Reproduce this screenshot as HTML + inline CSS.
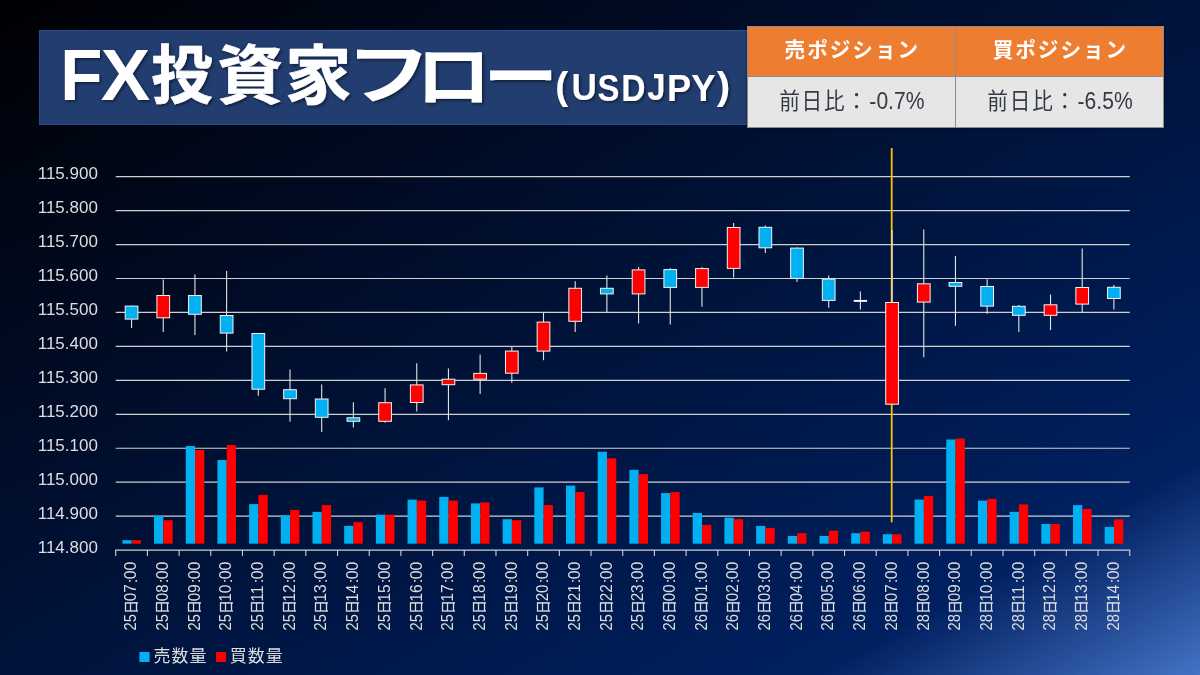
<!DOCTYPE html>
<html lang="ja"><head><meta charset="utf-8"><title>FX投資家フロー(USDJPY)</title>
<style>
html,body{margin:0;padding:0;}
body{width:1200px;height:675px;overflow:hidden;position:relative;font-family:"Liberation Sans","Noto Sans CJK JP",sans-serif;
background:#02143c;}
#bg{position:absolute;left:0;top:0;width:1200px;height:675px;
background:linear-gradient(to bottom right,#000003 0%,#002060 84%,#4472c4 100%);}
#titlebox{position:absolute;left:39px;top:30px;width:712px;height:94.5px;background:#223e70;box-sizing:border-box;border:1px solid #2c4c86;}
#tbl{position:absolute;left:747px;top:25.5px;width:417px;height:102.3px;box-shadow:0 0 3px rgba(0,0,0,.45);background:#8c8c8c;}
#tbl div{position:absolute;}
#h1{left:1px;top:1px;width:207px;height:49.5px;background:#ed7d31;}
#h2{left:209px;top:1px;width:207px;height:49.5px;background:#ed7d31;}
#c1{left:1px;top:51.5px;width:207px;height:49.8px;background:#e7e6e6;}
#c2{left:209px;top:51.5px;width:207px;height:49.8px;background:#e7e6e6;}
svg{position:absolute;left:0;top:0;will-change:transform;}
text{font-family:"Liberation Sans","Noto Sans CJK JP",sans-serif;}
</style></head><body>
<div id="bg"></div>
<div id="titlebox"></div>
<div id="tbl"><div id="h1"></div><div id="h2"></div><div id="c1"></div><div id="c2"></div></div>
<svg width="1200" height="675" viewBox="0 0 1200 675">
<defs><filter id="sh" x="-5%" y="-20%" width="110%" height="150%"><feDropShadow dx="1.6" dy="1.6" stdDeviation="1.6" flood-color="#000" flood-opacity="0.5"/></filter></defs>
<g filter="url(#sh)" role="heading" aria-label="FX投資家フロー(USDJPY)">
<text transform="matrix(0.69 0 0 0.724 60.285 100.3)" font-size="100" font-weight="700" fill="#ffffff">F</text>
<text transform="matrix(0.741 0 0 0.724 100.649 100.3)" font-size="100" font-weight="700" fill="#ffffff">X</text>
<text transform="matrix(0.6152 0 0 0.6362 151.154 97.693)" font-size="100" font-weight="700" fill="#ffffff" stroke="#ffffff" stroke-width="1" stroke-linejoin="round">投</text>
<text transform="matrix(0.6582 0 0 0.6369 217.325 97.758)" font-size="100" font-weight="700" fill="#ffffff" stroke="#ffffff" stroke-width="1" stroke-linejoin="round">資</text>
<text transform="matrix(0.6652 0 0 0.6404 285.073 97.988)" font-size="100" font-weight="700" fill="#ffffff" stroke="#ffffff" stroke-width="1" stroke-linejoin="round">家</text>
<text transform="matrix(0.85 0 0 0.66 346 98)" font-size="100" font-weight="700" fill="#ffffff">フ</text>
<text transform="matrix(0.75 0 0 0.68 416 101)" font-size="100" font-weight="700" fill="#ffffff">ロ</text>
<text transform="matrix(0.7485 0 0 0.6433 483.214 99.685)" font-size="100" font-weight="700" fill="#ffffff">ー</text>
<text transform="matrix(0.39 0 0 0.389 555.259 99.219)" font-size="100" font-weight="700" fill="#ffffff">(</text>
<text transform="matrix(0.351 0 0 0.368 571.392 100.34)" font-size="100" font-weight="700" fill="#ffffff">U</text>
<text transform="matrix(0.329 0 0 0.37 597.553 100.539)" font-size="100" font-weight="700" fill="#ffffff">S</text>
<text transform="matrix(0.336 0 0 0.371 621.253 100.5)" font-size="100" font-weight="700" fill="#ffffff">D</text>
<text transform="matrix(0.328 0 0 0.368 647.204 100.34)" font-size="100" font-weight="700" fill="#ffffff">J</text>
<text transform="matrix(0.362 0 0 0.371 666.977 100.5)" font-size="100" font-weight="700" fill="#ffffff">P</text>
<text transform="matrix(0.363 0 0 0.371 691.28 100.5)" font-size="100" font-weight="700" fill="#ffffff">Y</text>
<text transform="matrix(0.404 0 0 0.389 716.761 99.219)" font-size="100" font-weight="700" fill="#ffffff">)</text>
</g>
<g>
<text transform="matrix(0.206 0 0 0.21 784.585 57.4)" font-size="100" font-weight="700" letter-spacing="9.6" fill="#ffffff">売ポジション</text>
<text transform="matrix(0.206 0 0 0.21 992.681 57.4)" font-size="100" font-weight="700" letter-spacing="9.6" fill="#ffffff">買ポジション</text>
<text transform="matrix(0.2065 0 0 0.222 779.164 109)" font-size="100" font-weight="400" letter-spacing="8.5" fill="#333a45">前日比：</text><text transform="matrix(0.211 0 0 0.237 869.363 108.868)" font-size="100" font-weight="400" fill="#333a45">-0.7%</text>
<text transform="matrix(0.2065 0 0 0.222 987.364 109)" font-size="100" font-weight="400" letter-spacing="8.5" fill="#333a45">前日比：</text><text transform="matrix(0.211 0 0 0.237 1077.563 108.868)" font-size="100" font-weight="400" fill="#333a45">-6.5%</text>
</g>
<g>
<line x1="115.72" x2="1129.736" y1="176.65" y2="176.65" stroke="#cfcfcf" stroke-width="1.2"/>
<line x1="115.72" x2="1129.736" y1="210.6" y2="210.6" stroke="#cfcfcf" stroke-width="1.2"/>
<line x1="115.72" x2="1129.736" y1="244.55" y2="244.55" stroke="#cfcfcf" stroke-width="1.2"/>
<line x1="115.72" x2="1129.736" y1="278.5" y2="278.5" stroke="#cfcfcf" stroke-width="1.2"/>
<line x1="115.72" x2="1129.736" y1="312.45" y2="312.45" stroke="#cfcfcf" stroke-width="1.2"/>
<line x1="115.72" x2="1129.736" y1="346.4" y2="346.4" stroke="#cfcfcf" stroke-width="1.2"/>
<line x1="115.72" x2="1129.736" y1="380.35" y2="380.35" stroke="#cfcfcf" stroke-width="1.2"/>
<line x1="115.72" x2="1129.736" y1="414.3" y2="414.3" stroke="#cfcfcf" stroke-width="1.2"/>
<line x1="115.72" x2="1129.736" y1="448.25" y2="448.25" stroke="#cfcfcf" stroke-width="1.2"/>
<line x1="115.72" x2="1129.736" y1="482.2" y2="482.2" stroke="#cfcfcf" stroke-width="1.2"/>
<line x1="115.72" x2="1129.736" y1="516.15" y2="516.15" stroke="#cfcfcf" stroke-width="1.2"/>
<line x1="115.22" x2="1130.236" y1="550.1" y2="550.1" stroke="#cfcfcf" stroke-width="1.2"/>
<line x1="115.72" x2="115.72" y1="550.1" y2="555.9" stroke="#cfcfcf" stroke-width="1.1"/>
<line x1="147.408" x2="147.408" y1="550.1" y2="555.9" stroke="#cfcfcf" stroke-width="1.1"/>
<line x1="179.096" x2="179.096" y1="550.1" y2="555.9" stroke="#cfcfcf" stroke-width="1.1"/>
<line x1="210.784" x2="210.784" y1="550.1" y2="555.9" stroke="#cfcfcf" stroke-width="1.1"/>
<line x1="242.472" x2="242.472" y1="550.1" y2="555.9" stroke="#cfcfcf" stroke-width="1.1"/>
<line x1="274.16" x2="274.16" y1="550.1" y2="555.9" stroke="#cfcfcf" stroke-width="1.1"/>
<line x1="305.848" x2="305.848" y1="550.1" y2="555.9" stroke="#cfcfcf" stroke-width="1.1"/>
<line x1="337.536" x2="337.536" y1="550.1" y2="555.9" stroke="#cfcfcf" stroke-width="1.1"/>
<line x1="369.224" x2="369.224" y1="550.1" y2="555.9" stroke="#cfcfcf" stroke-width="1.1"/>
<line x1="400.912" x2="400.912" y1="550.1" y2="555.9" stroke="#cfcfcf" stroke-width="1.1"/>
<line x1="432.6" x2="432.6" y1="550.1" y2="555.9" stroke="#cfcfcf" stroke-width="1.1"/>
<line x1="464.288" x2="464.288" y1="550.1" y2="555.9" stroke="#cfcfcf" stroke-width="1.1"/>
<line x1="495.976" x2="495.976" y1="550.1" y2="555.9" stroke="#cfcfcf" stroke-width="1.1"/>
<line x1="527.664" x2="527.664" y1="550.1" y2="555.9" stroke="#cfcfcf" stroke-width="1.1"/>
<line x1="559.352" x2="559.352" y1="550.1" y2="555.9" stroke="#cfcfcf" stroke-width="1.1"/>
<line x1="591.04" x2="591.04" y1="550.1" y2="555.9" stroke="#cfcfcf" stroke-width="1.1"/>
<line x1="622.728" x2="622.728" y1="550.1" y2="555.9" stroke="#cfcfcf" stroke-width="1.1"/>
<line x1="654.416" x2="654.416" y1="550.1" y2="555.9" stroke="#cfcfcf" stroke-width="1.1"/>
<line x1="686.104" x2="686.104" y1="550.1" y2="555.9" stroke="#cfcfcf" stroke-width="1.1"/>
<line x1="717.792" x2="717.792" y1="550.1" y2="555.9" stroke="#cfcfcf" stroke-width="1.1"/>
<line x1="749.48" x2="749.48" y1="550.1" y2="555.9" stroke="#cfcfcf" stroke-width="1.1"/>
<line x1="781.168" x2="781.168" y1="550.1" y2="555.9" stroke="#cfcfcf" stroke-width="1.1"/>
<line x1="812.856" x2="812.856" y1="550.1" y2="555.9" stroke="#cfcfcf" stroke-width="1.1"/>
<line x1="844.544" x2="844.544" y1="550.1" y2="555.9" stroke="#cfcfcf" stroke-width="1.1"/>
<line x1="876.232" x2="876.232" y1="550.1" y2="555.9" stroke="#cfcfcf" stroke-width="1.1"/>
<line x1="907.92" x2="907.92" y1="550.1" y2="555.9" stroke="#cfcfcf" stroke-width="1.1"/>
<line x1="939.608" x2="939.608" y1="550.1" y2="555.9" stroke="#cfcfcf" stroke-width="1.1"/>
<line x1="971.296" x2="971.296" y1="550.1" y2="555.9" stroke="#cfcfcf" stroke-width="1.1"/>
<line x1="1002.984" x2="1002.984" y1="550.1" y2="555.9" stroke="#cfcfcf" stroke-width="1.1"/>
<line x1="1034.672" x2="1034.672" y1="550.1" y2="555.9" stroke="#cfcfcf" stroke-width="1.1"/>
<line x1="1066.36" x2="1066.36" y1="550.1" y2="555.9" stroke="#cfcfcf" stroke-width="1.1"/>
<line x1="1098.048" x2="1098.048" y1="550.1" y2="555.9" stroke="#cfcfcf" stroke-width="1.1"/>
<line x1="1129.736" x2="1129.736" y1="550.1" y2="555.9" stroke="#cfcfcf" stroke-width="1.1"/>
<text transform="matrix(0.17 0 0 0.156 37.705 179.298)" font-size="100" font-weight="400" fill="#dedede">115.900</text>
<text transform="matrix(0.17 0 0 0.156 37.705 213.248)" font-size="100" font-weight="400" fill="#dedede">115.800</text>
<text transform="matrix(0.17 0 0 0.156 37.705 247.198)" font-size="100" font-weight="400" fill="#dedede">115.700</text>
<text transform="matrix(0.17 0 0 0.156 37.705 281.148)" font-size="100" font-weight="400" fill="#dedede">115.600</text>
<text transform="matrix(0.17 0 0 0.156 37.705 315.098)" font-size="100" font-weight="400" fill="#dedede">115.500</text>
<text transform="matrix(0.17 0 0 0.156 37.705 349.048)" font-size="100" font-weight="400" fill="#dedede">115.400</text>
<text transform="matrix(0.17 0 0 0.156 37.705 382.998)" font-size="100" font-weight="400" fill="#dedede">115.300</text>
<text transform="matrix(0.17 0 0 0.156 37.705 416.948)" font-size="100" font-weight="400" fill="#dedede">115.200</text>
<text transform="matrix(0.17 0 0 0.156 37.705 450.898)" font-size="100" font-weight="400" fill="#dedede">115.100</text>
<text transform="matrix(0.17 0 0 0.156 37.705 484.848)" font-size="100" font-weight="400" fill="#dedede">115.000</text>
<text transform="matrix(0.17 0 0 0.156 37.705 518.798)" font-size="100" font-weight="400" fill="#dedede">114.900</text>
<text transform="matrix(0.17 0 0 0.156 37.705 552.748)" font-size="100" font-weight="400" fill="#dedede">114.800</text>
<line x1="891.7" x2="891.7" y1="148" y2="522.2" stroke="#ffc000" stroke-width="1.8"/>
<rect x="122.364" y="540.2" width="9.3" height="3.5" fill="#00b0f0"/>
<rect x="131.664" y="540.2" width="9.3" height="3.5" fill="#ff0000"/>
<rect x="154.052" y="515.9" width="9.3" height="27.8" fill="#00b0f0"/>
<rect x="163.352" y="520.2" width="9.3" height="23.5" fill="#ff0000"/>
<rect x="185.74" y="446" width="9.3" height="97.7" fill="#00b0f0"/>
<rect x="195.04" y="450" width="9.3" height="93.7" fill="#ff0000"/>
<rect x="217.428" y="460" width="9.3" height="83.7" fill="#00b0f0"/>
<rect x="226.728" y="445" width="9.3" height="98.7" fill="#ff0000"/>
<rect x="249.116" y="504.1" width="9.3" height="39.6" fill="#00b0f0"/>
<rect x="258.416" y="494.9" width="9.3" height="48.8" fill="#ff0000"/>
<rect x="280.804" y="515.6" width="9.3" height="28.1" fill="#00b0f0"/>
<rect x="290.104" y="509.9" width="9.3" height="33.8" fill="#ff0000"/>
<rect x="312.492" y="511.9" width="9.3" height="31.8" fill="#00b0f0"/>
<rect x="321.792" y="505.1" width="9.3" height="38.6" fill="#ff0000"/>
<rect x="344.18" y="525.9" width="9.3" height="17.8" fill="#00b0f0"/>
<rect x="353.48" y="522.2" width="9.3" height="21.5" fill="#ff0000"/>
<rect x="375.868" y="514.7" width="9.3" height="29" fill="#00b0f0"/>
<rect x="385.168" y="514.7" width="9.3" height="29" fill="#ff0000"/>
<rect x="407.556" y="499.6" width="9.3" height="44.1" fill="#00b0f0"/>
<rect x="416.856" y="500.6" width="9.3" height="43.1" fill="#ff0000"/>
<rect x="439.244" y="496.9" width="9.3" height="46.8" fill="#00b0f0"/>
<rect x="448.544" y="500.6" width="9.3" height="43.1" fill="#ff0000"/>
<rect x="470.932" y="503.4" width="9.3" height="40.3" fill="#00b0f0"/>
<rect x="480.232" y="502.4" width="9.3" height="41.3" fill="#ff0000"/>
<rect x="502.62" y="519.2" width="9.3" height="24.5" fill="#00b0f0"/>
<rect x="511.92" y="520.2" width="9.3" height="23.5" fill="#ff0000"/>
<rect x="534.308" y="487.4" width="9.3" height="56.3" fill="#00b0f0"/>
<rect x="543.608" y="505.1" width="9.3" height="38.6" fill="#ff0000"/>
<rect x="565.996" y="485.6" width="9.3" height="58.1" fill="#00b0f0"/>
<rect x="575.296" y="492.1" width="9.3" height="51.6" fill="#ff0000"/>
<rect x="597.684" y="451.8" width="9.3" height="91.9" fill="#00b0f0"/>
<rect x="606.984" y="458.3" width="9.3" height="85.4" fill="#ff0000"/>
<rect x="629.372" y="469.8" width="9.3" height="73.9" fill="#00b0f0"/>
<rect x="638.672" y="474.1" width="9.3" height="69.6" fill="#ff0000"/>
<rect x="661.06" y="493.1" width="9.3" height="50.6" fill="#00b0f0"/>
<rect x="670.36" y="492.1" width="9.3" height="51.6" fill="#ff0000"/>
<rect x="692.748" y="512.9" width="9.3" height="30.8" fill="#00b0f0"/>
<rect x="702.048" y="524.9" width="9.3" height="18.8" fill="#ff0000"/>
<rect x="724.436" y="517.7" width="9.3" height="26" fill="#00b0f0"/>
<rect x="733.736" y="519.2" width="9.3" height="24.5" fill="#ff0000"/>
<rect x="756.124" y="525.9" width="9.3" height="17.8" fill="#00b0f0"/>
<rect x="765.424" y="527.9" width="9.3" height="15.8" fill="#ff0000"/>
<rect x="787.812" y="536" width="9.3" height="7.7" fill="#00b0f0"/>
<rect x="797.112" y="533.2" width="9.3" height="10.5" fill="#ff0000"/>
<rect x="819.5" y="536" width="9.3" height="7.7" fill="#00b0f0"/>
<rect x="828.8" y="530.7" width="9.3" height="13" fill="#ff0000"/>
<rect x="851.188" y="533.2" width="9.3" height="10.5" fill="#00b0f0"/>
<rect x="860.488" y="531.7" width="9.3" height="12" fill="#ff0000"/>
<rect x="882.876" y="534.2" width="9.3" height="9.5" fill="#00b0f0"/>
<rect x="892.176" y="534.2" width="9.3" height="9.5" fill="#ff0000"/>
<rect x="914.564" y="499.6" width="9.3" height="44.1" fill="#00b0f0"/>
<rect x="923.864" y="495.9" width="9.3" height="47.8" fill="#ff0000"/>
<rect x="946.252" y="439.5" width="9.3" height="104.2" fill="#00b0f0"/>
<rect x="955.552" y="438.5" width="9.3" height="105.2" fill="#ff0000"/>
<rect x="977.94" y="500.6" width="9.3" height="43.1" fill="#00b0f0"/>
<rect x="987.24" y="498.9" width="9.3" height="44.8" fill="#ff0000"/>
<rect x="1009.628" y="511.9" width="9.3" height="31.8" fill="#00b0f0"/>
<rect x="1018.928" y="504.4" width="9.3" height="39.3" fill="#ff0000"/>
<rect x="1041.316" y="523.9" width="9.3" height="19.8" fill="#00b0f0"/>
<rect x="1050.616" y="523.9" width="9.3" height="19.8" fill="#ff0000"/>
<rect x="1073.004" y="505.1" width="9.3" height="38.6" fill="#00b0f0"/>
<rect x="1082.304" y="508.9" width="9.3" height="34.8" fill="#ff0000"/>
<rect x="1104.692" y="526.9" width="9.3" height="16.8" fill="#00b0f0"/>
<rect x="1113.992" y="519.4" width="9.3" height="24.3" fill="#ff0000"/>
<line x1="131.564" x2="131.564" y1="305.6" y2="328.1" stroke="#e4e4e4" stroke-width="1.1"/>
<rect x="125.214" y="306.1" width="12.7" height="13" fill="#00b0f0" stroke="#f2f2f2" stroke-width="1"/>
<line x1="163.252" x2="163.252" y1="279.5" y2="331.9" stroke="#e4e4e4" stroke-width="1.1"/>
<rect x="156.902" y="295.5" width="12.7" height="22.3" fill="#ff0000" stroke="#f2f2f2" stroke-width="1"/>
<line x1="194.94" x2="194.94" y1="274.5" y2="334.9" stroke="#e4e4e4" stroke-width="1.1"/>
<rect x="188.59" y="295.5" width="12.7" height="18.8" fill="#00b0f0" stroke="#f2f2f2" stroke-width="1"/>
<line x1="226.628" x2="226.628" y1="271" y2="351.6" stroke="#e4e4e4" stroke-width="1.1"/>
<rect x="220.278" y="315.5" width="12.7" height="17.6" fill="#00b0f0" stroke="#f2f2f2" stroke-width="1"/>
<line x1="258.316" x2="258.316" y1="333" y2="395.7" stroke="#e4e4e4" stroke-width="1.1"/>
<rect x="251.966" y="333.5" width="12.7" height="55.7" fill="#00b0f0" stroke="#f2f2f2" stroke-width="1"/>
<line x1="290.004" x2="290.004" y1="369.4" y2="421.8" stroke="#e4e4e4" stroke-width="1.1"/>
<rect x="283.654" y="389.7" width="12.7" height="9" fill="#00b0f0" stroke="#f2f2f2" stroke-width="1"/>
<line x1="321.692" x2="321.692" y1="384.4" y2="432" stroke="#e4e4e4" stroke-width="1.1"/>
<rect x="315.342" y="399" width="12.7" height="18.3" fill="#00b0f0" stroke="#f2f2f2" stroke-width="1"/>
<line x1="353.38" x2="353.38" y1="402.2" y2="427.5" stroke="#e4e4e4" stroke-width="1.1"/>
<rect x="347.03" y="417.8" width="12.7" height="3.5" fill="#00b0f0" stroke="#f2f2f2" stroke-width="1"/>
<line x1="385.068" x2="385.068" y1="388.2" y2="422.8" stroke="#e4e4e4" stroke-width="1.1"/>
<rect x="378.718" y="402.7" width="12.7" height="18.6" fill="#ff0000" stroke="#f2f2f2" stroke-width="1"/>
<line x1="416.756" x2="416.756" y1="363.2" y2="411.5" stroke="#e4e4e4" stroke-width="1.1"/>
<rect x="410.406" y="384.9" width="12.7" height="17.6" fill="#ff0000" stroke="#f2f2f2" stroke-width="1"/>
<line x1="448.444" x2="448.444" y1="368.4" y2="420.3" stroke="#e4e4e4" stroke-width="1.1"/>
<rect x="442.094" y="379.2" width="12.7" height="5.5" fill="#ff0000" stroke="#f2f2f2" stroke-width="1"/>
<line x1="480.132" x2="480.132" y1="354.6" y2="394" stroke="#e4e4e4" stroke-width="1.1"/>
<rect x="473.782" y="373.4" width="12.7" height="5.8" fill="#ff0000" stroke="#f2f2f2" stroke-width="1"/>
<line x1="511.82" x2="511.82" y1="347.1" y2="382.7" stroke="#e4e4e4" stroke-width="1.1"/>
<rect x="505.47" y="351.1" width="12.7" height="22.1" fill="#ff0000" stroke="#f2f2f2" stroke-width="1"/>
<line x1="543.508" x2="543.508" y1="312.6" y2="360.2" stroke="#e4e4e4" stroke-width="1.1"/>
<rect x="537.158" y="322.1" width="12.7" height="29" fill="#ff0000" stroke="#f2f2f2" stroke-width="1"/>
<line x1="575.196" x2="575.196" y1="281.3" y2="332.1" stroke="#e4e4e4" stroke-width="1.1"/>
<rect x="568.846" y="288.3" width="12.7" height="33" fill="#ff0000" stroke="#f2f2f2" stroke-width="1"/>
<line x1="606.884" x2="606.884" y1="275.5" y2="312.4" stroke="#e4e4e4" stroke-width="1.1"/>
<rect x="600.534" y="288.3" width="12.7" height="5.6" fill="#00b0f0" stroke="#f2f2f2" stroke-width="1"/>
<line x1="638.572" x2="638.572" y1="267.1" y2="323.5" stroke="#e4e4e4" stroke-width="1.1"/>
<rect x="632.222" y="269.9" width="12.7" height="24" fill="#ff0000" stroke="#f2f2f2" stroke-width="1"/>
<line x1="670.26" x2="670.26" y1="268.1" y2="324.5" stroke="#e4e4e4" stroke-width="1.1"/>
<rect x="663.91" y="269.6" width="12.7" height="17.8" fill="#00b0f0" stroke="#f2f2f2" stroke-width="1"/>
<line x1="701.948" x2="701.948" y1="267.1" y2="306.7" stroke="#e4e4e4" stroke-width="1.1"/>
<rect x="695.598" y="268.6" width="12.7" height="18.8" fill="#ff0000" stroke="#f2f2f2" stroke-width="1"/>
<line x1="733.636" x2="733.636" y1="223" y2="277.4" stroke="#e4e4e4" stroke-width="1.1"/>
<rect x="727.286" y="227.5" width="12.7" height="40.9" fill="#ff0000" stroke="#f2f2f2" stroke-width="1"/>
<line x1="765.324" x2="765.324" y1="225.5" y2="253.1" stroke="#e4e4e4" stroke-width="1.1"/>
<rect x="758.974" y="227.3" width="12.7" height="20.5" fill="#00b0f0" stroke="#f2f2f2" stroke-width="1"/>
<line x1="797.012" x2="797.012" y1="247.6" y2="282.1" stroke="#e4e4e4" stroke-width="1.1"/>
<rect x="790.662" y="248.1" width="12.7" height="30.3" fill="#00b0f0" stroke="#f2f2f2" stroke-width="1"/>
<line x1="828.7" x2="828.7" y1="275.6" y2="307.7" stroke="#e4e4e4" stroke-width="1.1"/>
<rect x="822.35" y="279.1" width="12.7" height="21.3" fill="#00b0f0" stroke="#f2f2f2" stroke-width="1"/>
<line x1="860.388" x2="860.388" y1="291.4" y2="309.4" stroke="#e4e4e4" stroke-width="1.1"/>
<rect x="853.738" y="299.95" width="13.3" height="1.9" fill="#ffffff"/>
<line x1="892.076" x2="892.076" y1="230.1" y2="404.7" stroke="#e4e4e4" stroke-width="1.1"/>
<rect x="885.726" y="302.5" width="12.7" height="101.7" fill="#ff0000" stroke="#f2f2f2" stroke-width="1"/>
<line x1="923.764" x2="923.764" y1="229.6" y2="357.2" stroke="#e4e4e4" stroke-width="1.1"/>
<rect x="917.414" y="283.8" width="12.7" height="18.3" fill="#ff0000" stroke="#f2f2f2" stroke-width="1"/>
<line x1="955.452" x2="955.452" y1="255.9" y2="325.8" stroke="#e4e4e4" stroke-width="1.1"/>
<rect x="949.102" y="282.5" width="12.7" height="3.8" fill="#00b0f0" stroke="#f2f2f2" stroke-width="1"/>
<line x1="987.14" x2="987.14" y1="279.3" y2="313.8" stroke="#e4e4e4" stroke-width="1.1"/>
<rect x="980.79" y="286.5" width="12.7" height="19.6" fill="#00b0f0" stroke="#f2f2f2" stroke-width="1"/>
<line x1="1018.828" x2="1018.828" y1="305" y2="331.9" stroke="#e4e4e4" stroke-width="1.1"/>
<rect x="1012.478" y="306.3" width="12.7" height="9" fill="#00b0f0" stroke="#f2f2f2" stroke-width="1"/>
<line x1="1050.516" x2="1050.516" y1="294.5" y2="330.1" stroke="#e4e4e4" stroke-width="1.1"/>
<rect x="1044.166" y="304.8" width="12.7" height="10.5" fill="#ff0000" stroke="#f2f2f2" stroke-width="1"/>
<line x1="1082.204" x2="1082.204" y1="248.4" y2="312.6" stroke="#e4e4e4" stroke-width="1.1"/>
<rect x="1075.854" y="287.5" width="12.7" height="16.6" fill="#ff0000" stroke="#f2f2f2" stroke-width="1"/>
<line x1="1113.892" x2="1113.892" y1="285" y2="309.6" stroke="#e4e4e4" stroke-width="1.1"/>
<rect x="1107.542" y="287.3" width="12.7" height="11.2" fill="#00b0f0" stroke="#f2f2f2" stroke-width="1"/>
<g transform="translate(131.064 630) rotate(-90)"><text transform="matrix(0.147 0 0 0.157 -0.44 5.297)" font-size="100" font-weight="400" fill="#dedede">25</text><text transform="matrix(0.1405 0 0 0.1324 15.967 4.604)" font-size="100" font-weight="400" fill="#dedede" stroke="#dedede" stroke-width="2" stroke-linejoin="round">日</text><text transform="matrix(0.152 0 0 0.157 28.808 5.297)" font-size="100" font-weight="400" fill="#dedede">07</text><text transform="matrix(0.179 0 0 0.148 46.77 5.45)" font-size="100" font-weight="400" fill="#dedede">:</text><text transform="matrix(0.159 0 0 0.157 50.781 5.297)" font-size="100" font-weight="400" fill="#dedede">00</text></g>
<g transform="translate(162.752 630) rotate(-90)"><text transform="matrix(0.147 0 0 0.157 -0.44 5.297)" font-size="100" font-weight="400" fill="#dedede">25</text><text transform="matrix(0.1405 0 0 0.1324 15.967 4.604)" font-size="100" font-weight="400" fill="#dedede" stroke="#dedede" stroke-width="2" stroke-linejoin="round">日</text><text transform="matrix(0.151 0 0 0.157 28.812 5.297)" font-size="100" font-weight="400" fill="#dedede">08</text><text transform="matrix(0.179 0 0 0.148 46.77 5.45)" font-size="100" font-weight="400" fill="#dedede">:</text><text transform="matrix(0.159 0 0 0.157 50.781 5.297)" font-size="100" font-weight="400" fill="#dedede">00</text></g>
<g transform="translate(194.44 630) rotate(-90)"><text transform="matrix(0.147 0 0 0.157 -0.44 5.297)" font-size="100" font-weight="400" fill="#dedede">25</text><text transform="matrix(0.1405 0 0 0.1324 15.967 4.604)" font-size="100" font-weight="400" fill="#dedede" stroke="#dedede" stroke-width="2" stroke-linejoin="round">日</text><text transform="matrix(0.151 0 0 0.157 28.81 5.297)" font-size="100" font-weight="400" fill="#dedede">09</text><text transform="matrix(0.179 0 0 0.148 46.77 5.45)" font-size="100" font-weight="400" fill="#dedede">:</text><text transform="matrix(0.159 0 0 0.157 50.781 5.297)" font-size="100" font-weight="400" fill="#dedede">00</text></g>
<g transform="translate(226.128 630) rotate(-90)"><text transform="matrix(0.147 0 0 0.157 -0.44 5.297)" font-size="100" font-weight="400" fill="#dedede">25</text><text transform="matrix(0.1405 0 0 0.1324 15.967 4.604)" font-size="100" font-weight="400" fill="#dedede" stroke="#dedede" stroke-width="2" stroke-linejoin="round">日</text><text transform="matrix(0.155 0 0 0.157 28.216 5.297)" font-size="100" font-weight="400" fill="#dedede">10</text><text transform="matrix(0.179 0 0 0.148 46.77 5.45)" font-size="100" font-weight="400" fill="#dedede">:</text><text transform="matrix(0.159 0 0 0.157 50.781 5.297)" font-size="100" font-weight="400" fill="#dedede">00</text></g>
<g transform="translate(257.816 630) rotate(-90)"><text transform="matrix(0.147 0 0 0.157 -0.44 5.297)" font-size="100" font-weight="400" fill="#dedede">25</text><text transform="matrix(0.1405 0 0 0.1324 15.967 4.604)" font-size="100" font-weight="400" fill="#dedede" stroke="#dedede" stroke-width="2" stroke-linejoin="round">日</text><text transform="matrix(0.157 0 0 0.161 28.204 5.45)" font-size="100" font-weight="400" fill="#dedede">11</text><text transform="matrix(0.179 0 0 0.148 46.77 5.45)" font-size="100" font-weight="400" fill="#dedede">:</text><text transform="matrix(0.159 0 0 0.157 50.781 5.297)" font-size="100" font-weight="400" fill="#dedede">00</text></g>
<g transform="translate(289.504 630) rotate(-90)"><text transform="matrix(0.147 0 0 0.157 -0.44 5.297)" font-size="100" font-weight="400" fill="#dedede">25</text><text transform="matrix(0.1405 0 0 0.1324 15.967 4.604)" font-size="100" font-weight="400" fill="#dedede" stroke="#dedede" stroke-width="2" stroke-linejoin="round">日</text><text transform="matrix(0.157 0 0 0.159 28.202 5.45)" font-size="100" font-weight="400" fill="#dedede">12</text><text transform="matrix(0.179 0 0 0.148 46.77 5.45)" font-size="100" font-weight="400" fill="#dedede">:</text><text transform="matrix(0.159 0 0 0.157 50.781 5.297)" font-size="100" font-weight="400" fill="#dedede">00</text></g>
<g transform="translate(321.192 630) rotate(-90)"><text transform="matrix(0.147 0 0 0.157 -0.44 5.297)" font-size="100" font-weight="400" fill="#dedede">25</text><text transform="matrix(0.1405 0 0 0.1324 15.967 4.604)" font-size="100" font-weight="400" fill="#dedede" stroke="#dedede" stroke-width="2" stroke-linejoin="round">日</text><text transform="matrix(0.156 0 0 0.157 28.21 5.297)" font-size="100" font-weight="400" fill="#dedede">13</text><text transform="matrix(0.179 0 0 0.148 46.77 5.45)" font-size="100" font-weight="400" fill="#dedede">:</text><text transform="matrix(0.159 0 0 0.157 50.781 5.297)" font-size="100" font-weight="400" fill="#dedede">00</text></g>
<g transform="translate(352.88 630) rotate(-90)"><text transform="matrix(0.147 0 0 0.157 -0.44 5.297)" font-size="100" font-weight="400" fill="#dedede">25</text><text transform="matrix(0.1405 0 0 0.1324 15.967 4.604)" font-size="100" font-weight="400" fill="#dedede" stroke="#dedede" stroke-width="2" stroke-linejoin="round">日</text><text transform="matrix(0.154 0 0 0.161 28.227 5.45)" font-size="100" font-weight="400" fill="#dedede">14</text><text transform="matrix(0.179 0 0 0.148 46.77 5.45)" font-size="100" font-weight="400" fill="#dedede">:</text><text transform="matrix(0.159 0 0 0.157 50.781 5.297)" font-size="100" font-weight="400" fill="#dedede">00</text></g>
<g transform="translate(384.568 630) rotate(-90)"><text transform="matrix(0.147 0 0 0.157 -0.44 5.297)" font-size="100" font-weight="400" fill="#dedede">25</text><text transform="matrix(0.1405 0 0 0.1324 15.967 4.604)" font-size="100" font-weight="400" fill="#dedede" stroke="#dedede" stroke-width="2" stroke-linejoin="round">日</text><text transform="matrix(0.156 0 0 0.159 28.212 5.295)" font-size="100" font-weight="400" fill="#dedede">15</text><text transform="matrix(0.179 0 0 0.148 46.77 5.45)" font-size="100" font-weight="400" fill="#dedede">:</text><text transform="matrix(0.159 0 0 0.157 50.781 5.297)" font-size="100" font-weight="400" fill="#dedede">00</text></g>
<g transform="translate(416.256 630) rotate(-90)"><text transform="matrix(0.147 0 0 0.157 -0.44 5.297)" font-size="100" font-weight="400" fill="#dedede">25</text><text transform="matrix(0.1405 0 0 0.1324 15.967 4.604)" font-size="100" font-weight="400" fill="#dedede" stroke="#dedede" stroke-width="2" stroke-linejoin="round">日</text><text transform="matrix(0.156 0 0 0.157 28.21 5.297)" font-size="100" font-weight="400" fill="#dedede">16</text><text transform="matrix(0.179 0 0 0.148 46.77 5.45)" font-size="100" font-weight="400" fill="#dedede">:</text><text transform="matrix(0.159 0 0 0.157 50.781 5.297)" font-size="100" font-weight="400" fill="#dedede">00</text></g>
<g transform="translate(447.944 630) rotate(-90)"><text transform="matrix(0.147 0 0 0.157 -0.44 5.297)" font-size="100" font-weight="400" fill="#dedede">25</text><text transform="matrix(0.1405 0 0 0.1324 15.967 4.604)" font-size="100" font-weight="400" fill="#dedede" stroke="#dedede" stroke-width="2" stroke-linejoin="round">日</text><text transform="matrix(0.157 0 0 0.161 28.202 5.45)" font-size="100" font-weight="400" fill="#dedede">17</text><text transform="matrix(0.179 0 0 0.148 46.77 5.45)" font-size="100" font-weight="400" fill="#dedede">:</text><text transform="matrix(0.159 0 0 0.157 50.781 5.297)" font-size="100" font-weight="400" fill="#dedede">00</text></g>
<g transform="translate(479.632 630) rotate(-90)"><text transform="matrix(0.147 0 0 0.157 -0.44 5.297)" font-size="100" font-weight="400" fill="#dedede">25</text><text transform="matrix(0.1405 0 0 0.1324 15.967 4.604)" font-size="100" font-weight="400" fill="#dedede" stroke="#dedede" stroke-width="2" stroke-linejoin="round">日</text><text transform="matrix(0.156 0 0 0.157 28.211 5.297)" font-size="100" font-weight="400" fill="#dedede">18</text><text transform="matrix(0.179 0 0 0.148 46.77 5.45)" font-size="100" font-weight="400" fill="#dedede">:</text><text transform="matrix(0.159 0 0 0.157 50.781 5.297)" font-size="100" font-weight="400" fill="#dedede">00</text></g>
<g transform="translate(511.32 630) rotate(-90)"><text transform="matrix(0.147 0 0 0.157 -0.44 5.297)" font-size="100" font-weight="400" fill="#dedede">25</text><text transform="matrix(0.1405 0 0 0.1324 15.967 4.604)" font-size="100" font-weight="400" fill="#dedede" stroke="#dedede" stroke-width="2" stroke-linejoin="round">日</text><text transform="matrix(0.157 0 0 0.157 28.206 5.297)" font-size="100" font-weight="400" fill="#dedede">19</text><text transform="matrix(0.179 0 0 0.148 46.77 5.45)" font-size="100" font-weight="400" fill="#dedede">:</text><text transform="matrix(0.159 0 0 0.157 50.781 5.297)" font-size="100" font-weight="400" fill="#dedede">00</text></g>
<g transform="translate(543.008 630) rotate(-90)"><text transform="matrix(0.147 0 0 0.157 -0.44 5.297)" font-size="100" font-weight="400" fill="#dedede">25</text><text transform="matrix(0.1405 0 0 0.1324 15.967 4.604)" font-size="100" font-weight="400" fill="#dedede" stroke="#dedede" stroke-width="2" stroke-linejoin="round">日</text><text transform="matrix(0.152 0 0 0.157 28.638 5.297)" font-size="100" font-weight="400" fill="#dedede">20</text><text transform="matrix(0.179 0 0 0.148 46.77 5.45)" font-size="100" font-weight="400" fill="#dedede">:</text><text transform="matrix(0.159 0 0 0.157 50.781 5.297)" font-size="100" font-weight="400" fill="#dedede">00</text></g>
<g transform="translate(574.696 630) rotate(-90)"><text transform="matrix(0.147 0 0 0.157 -0.44 5.297)" font-size="100" font-weight="400" fill="#dedede">25</text><text transform="matrix(0.1405 0 0 0.1324 15.967 4.604)" font-size="100" font-weight="400" fill="#dedede" stroke="#dedede" stroke-width="2" stroke-linejoin="round">日</text><text transform="matrix(0.153 0 0 0.159 28.631 5.45)" font-size="100" font-weight="400" fill="#dedede">21</text><text transform="matrix(0.179 0 0 0.148 46.77 5.45)" font-size="100" font-weight="400" fill="#dedede">:</text><text transform="matrix(0.159 0 0 0.157 50.781 5.297)" font-size="100" font-weight="400" fill="#dedede">00</text></g>
<g transform="translate(606.384 630) rotate(-90)"><text transform="matrix(0.147 0 0 0.157 -0.44 5.297)" font-size="100" font-weight="400" fill="#dedede">25</text><text transform="matrix(0.1405 0 0 0.1324 15.967 4.604)" font-size="100" font-weight="400" fill="#dedede" stroke="#dedede" stroke-width="2" stroke-linejoin="round">日</text><text transform="matrix(0.153 0 0 0.159 28.629 5.45)" font-size="100" font-weight="400" fill="#dedede">22</text><text transform="matrix(0.179 0 0 0.148 46.77 5.45)" font-size="100" font-weight="400" fill="#dedede">:</text><text transform="matrix(0.159 0 0 0.157 50.781 5.297)" font-size="100" font-weight="400" fill="#dedede">00</text></g>
<g transform="translate(638.072 630) rotate(-90)"><text transform="matrix(0.147 0 0 0.157 -0.44 5.297)" font-size="100" font-weight="400" fill="#dedede">25</text><text transform="matrix(0.1405 0 0 0.1324 15.967 4.604)" font-size="100" font-weight="400" fill="#dedede" stroke="#dedede" stroke-width="2" stroke-linejoin="round">日</text><text transform="matrix(0.152 0 0 0.157 28.634 5.297)" font-size="100" font-weight="400" fill="#dedede">23</text><text transform="matrix(0.179 0 0 0.148 46.77 5.45)" font-size="100" font-weight="400" fill="#dedede">:</text><text transform="matrix(0.159 0 0 0.157 50.781 5.297)" font-size="100" font-weight="400" fill="#dedede">00</text></g>
<g transform="translate(669.76 630) rotate(-90)"><text transform="matrix(0.147 0 0 0.157 -0.441 5.297)" font-size="100" font-weight="400" fill="#dedede">26</text><text transform="matrix(0.1405 0 0 0.1324 15.967 4.604)" font-size="100" font-weight="400" fill="#dedede" stroke="#dedede" stroke-width="2" stroke-linejoin="round">日</text><text transform="matrix(0.15 0 0 0.157 28.815 5.297)" font-size="100" font-weight="400" fill="#dedede">00</text><text transform="matrix(0.179 0 0 0.148 46.77 5.45)" font-size="100" font-weight="400" fill="#dedede">:</text><text transform="matrix(0.159 0 0 0.157 50.781 5.297)" font-size="100" font-weight="400" fill="#dedede">00</text></g>
<g transform="translate(701.448 630) rotate(-90)"><text transform="matrix(0.147 0 0 0.157 -0.441 5.297)" font-size="100" font-weight="400" fill="#dedede">26</text><text transform="matrix(0.1405 0 0 0.1324 15.967 4.604)" font-size="100" font-weight="400" fill="#dedede" stroke="#dedede" stroke-width="2" stroke-linejoin="round">日</text><text transform="matrix(0.151 0 0 0.157 28.809 5.297)" font-size="100" font-weight="400" fill="#dedede">01</text><text transform="matrix(0.179 0 0 0.148 46.77 5.45)" font-size="100" font-weight="400" fill="#dedede">:</text><text transform="matrix(0.159 0 0 0.157 50.781 5.297)" font-size="100" font-weight="400" fill="#dedede">00</text></g>
<g transform="translate(733.136 630) rotate(-90)"><text transform="matrix(0.147 0 0 0.157 -0.441 5.297)" font-size="100" font-weight="400" fill="#dedede">26</text><text transform="matrix(0.1405 0 0 0.1324 15.967 4.604)" font-size="100" font-weight="400" fill="#dedede" stroke="#dedede" stroke-width="2" stroke-linejoin="round">日</text><text transform="matrix(0.152 0 0 0.157 28.808 5.297)" font-size="100" font-weight="400" fill="#dedede">02</text><text transform="matrix(0.179 0 0 0.148 46.77 5.45)" font-size="100" font-weight="400" fill="#dedede">:</text><text transform="matrix(0.159 0 0 0.157 50.781 5.297)" font-size="100" font-weight="400" fill="#dedede">00</text></g>
<g transform="translate(764.824 630) rotate(-90)"><text transform="matrix(0.147 0 0 0.157 -0.441 5.297)" font-size="100" font-weight="400" fill="#dedede">26</text><text transform="matrix(0.1405 0 0 0.1324 15.967 4.604)" font-size="100" font-weight="400" fill="#dedede" stroke="#dedede" stroke-width="2" stroke-linejoin="round">日</text><text transform="matrix(0.151 0 0 0.157 28.812 5.297)" font-size="100" font-weight="400" fill="#dedede">03</text><text transform="matrix(0.179 0 0 0.148 46.77 5.45)" font-size="100" font-weight="400" fill="#dedede">:</text><text transform="matrix(0.159 0 0 0.157 50.781 5.297)" font-size="100" font-weight="400" fill="#dedede">00</text></g>
<g transform="translate(796.512 630) rotate(-90)"><text transform="matrix(0.147 0 0 0.157 -0.441 5.297)" font-size="100" font-weight="400" fill="#dedede">26</text><text transform="matrix(0.1405 0 0 0.1324 15.967 4.604)" font-size="100" font-weight="400" fill="#dedede" stroke="#dedede" stroke-width="2" stroke-linejoin="round">日</text><text transform="matrix(0.148 0 0 0.157 28.82 5.297)" font-size="100" font-weight="400" fill="#dedede">04</text><text transform="matrix(0.179 0 0 0.148 46.77 5.45)" font-size="100" font-weight="400" fill="#dedede">:</text><text transform="matrix(0.159 0 0 0.157 50.781 5.297)" font-size="100" font-weight="400" fill="#dedede">00</text></g>
<g transform="translate(828.2 630) rotate(-90)"><text transform="matrix(0.147 0 0 0.157 -0.441 5.297)" font-size="100" font-weight="400" fill="#dedede">26</text><text transform="matrix(0.1405 0 0 0.1324 15.967 4.604)" font-size="100" font-weight="400" fill="#dedede" stroke="#dedede" stroke-width="2" stroke-linejoin="round">日</text><text transform="matrix(0.15 0 0 0.157 28.813 5.297)" font-size="100" font-weight="400" fill="#dedede">05</text><text transform="matrix(0.179 0 0 0.148 46.77 5.45)" font-size="100" font-weight="400" fill="#dedede">:</text><text transform="matrix(0.159 0 0 0.157 50.781 5.297)" font-size="100" font-weight="400" fill="#dedede">00</text></g>
<g transform="translate(859.888 630) rotate(-90)"><text transform="matrix(0.147 0 0 0.157 -0.441 5.297)" font-size="100" font-weight="400" fill="#dedede">26</text><text transform="matrix(0.1405 0 0 0.1324 15.967 4.604)" font-size="100" font-weight="400" fill="#dedede" stroke="#dedede" stroke-width="2" stroke-linejoin="round">日</text><text transform="matrix(0.151 0 0 0.157 28.812 5.297)" font-size="100" font-weight="400" fill="#dedede">06</text><text transform="matrix(0.179 0 0 0.148 46.77 5.45)" font-size="100" font-weight="400" fill="#dedede">:</text><text transform="matrix(0.159 0 0 0.157 50.781 5.297)" font-size="100" font-weight="400" fill="#dedede">00</text></g>
<g transform="translate(891.576 630) rotate(-90)"><text transform="matrix(0.147 0 0 0.157 -0.441 5.297)" font-size="100" font-weight="400" fill="#dedede">28</text><text transform="matrix(0.1405 0 0 0.1324 15.967 4.604)" font-size="100" font-weight="400" fill="#dedede" stroke="#dedede" stroke-width="2" stroke-linejoin="round">日</text><text transform="matrix(0.152 0 0 0.157 28.808 5.297)" font-size="100" font-weight="400" fill="#dedede">07</text><text transform="matrix(0.179 0 0 0.148 46.77 5.45)" font-size="100" font-weight="400" fill="#dedede">:</text><text transform="matrix(0.159 0 0 0.157 50.781 5.297)" font-size="100" font-weight="400" fill="#dedede">00</text></g>
<g transform="translate(923.264 630) rotate(-90)"><text transform="matrix(0.147 0 0 0.157 -0.441 5.297)" font-size="100" font-weight="400" fill="#dedede">28</text><text transform="matrix(0.1405 0 0 0.1324 15.967 4.604)" font-size="100" font-weight="400" fill="#dedede" stroke="#dedede" stroke-width="2" stroke-linejoin="round">日</text><text transform="matrix(0.151 0 0 0.157 28.812 5.297)" font-size="100" font-weight="400" fill="#dedede">08</text><text transform="matrix(0.179 0 0 0.148 46.77 5.45)" font-size="100" font-weight="400" fill="#dedede">:</text><text transform="matrix(0.159 0 0 0.157 50.781 5.297)" font-size="100" font-weight="400" fill="#dedede">00</text></g>
<g transform="translate(954.952 630) rotate(-90)"><text transform="matrix(0.147 0 0 0.157 -0.441 5.297)" font-size="100" font-weight="400" fill="#dedede">28</text><text transform="matrix(0.1405 0 0 0.1324 15.967 4.604)" font-size="100" font-weight="400" fill="#dedede" stroke="#dedede" stroke-width="2" stroke-linejoin="round">日</text><text transform="matrix(0.151 0 0 0.157 28.81 5.297)" font-size="100" font-weight="400" fill="#dedede">09</text><text transform="matrix(0.179 0 0 0.148 46.77 5.45)" font-size="100" font-weight="400" fill="#dedede">:</text><text transform="matrix(0.159 0 0 0.157 50.781 5.297)" font-size="100" font-weight="400" fill="#dedede">00</text></g>
<g transform="translate(986.64 630) rotate(-90)"><text transform="matrix(0.147 0 0 0.157 -0.441 5.297)" font-size="100" font-weight="400" fill="#dedede">28</text><text transform="matrix(0.1405 0 0 0.1324 15.967 4.604)" font-size="100" font-weight="400" fill="#dedede" stroke="#dedede" stroke-width="2" stroke-linejoin="round">日</text><text transform="matrix(0.155 0 0 0.157 28.216 5.297)" font-size="100" font-weight="400" fill="#dedede">10</text><text transform="matrix(0.179 0 0 0.148 46.77 5.45)" font-size="100" font-weight="400" fill="#dedede">:</text><text transform="matrix(0.159 0 0 0.157 50.781 5.297)" font-size="100" font-weight="400" fill="#dedede">00</text></g>
<g transform="translate(1018.328 630) rotate(-90)"><text transform="matrix(0.147 0 0 0.157 -0.441 5.297)" font-size="100" font-weight="400" fill="#dedede">28</text><text transform="matrix(0.1405 0 0 0.1324 15.967 4.604)" font-size="100" font-weight="400" fill="#dedede" stroke="#dedede" stroke-width="2" stroke-linejoin="round">日</text><text transform="matrix(0.157 0 0 0.161 28.204 5.45)" font-size="100" font-weight="400" fill="#dedede">11</text><text transform="matrix(0.179 0 0 0.148 46.77 5.45)" font-size="100" font-weight="400" fill="#dedede">:</text><text transform="matrix(0.159 0 0 0.157 50.781 5.297)" font-size="100" font-weight="400" fill="#dedede">00</text></g>
<g transform="translate(1050.016 630) rotate(-90)"><text transform="matrix(0.147 0 0 0.157 -0.441 5.297)" font-size="100" font-weight="400" fill="#dedede">28</text><text transform="matrix(0.1405 0 0 0.1324 15.967 4.604)" font-size="100" font-weight="400" fill="#dedede" stroke="#dedede" stroke-width="2" stroke-linejoin="round">日</text><text transform="matrix(0.157 0 0 0.159 28.202 5.45)" font-size="100" font-weight="400" fill="#dedede">12</text><text transform="matrix(0.179 0 0 0.148 46.77 5.45)" font-size="100" font-weight="400" fill="#dedede">:</text><text transform="matrix(0.159 0 0 0.157 50.781 5.297)" font-size="100" font-weight="400" fill="#dedede">00</text></g>
<g transform="translate(1081.704 630) rotate(-90)"><text transform="matrix(0.147 0 0 0.157 -0.441 5.297)" font-size="100" font-weight="400" fill="#dedede">28</text><text transform="matrix(0.1405 0 0 0.1324 15.967 4.604)" font-size="100" font-weight="400" fill="#dedede" stroke="#dedede" stroke-width="2" stroke-linejoin="round">日</text><text transform="matrix(0.156 0 0 0.157 28.21 5.297)" font-size="100" font-weight="400" fill="#dedede">13</text><text transform="matrix(0.179 0 0 0.148 46.77 5.45)" font-size="100" font-weight="400" fill="#dedede">:</text><text transform="matrix(0.159 0 0 0.157 50.781 5.297)" font-size="100" font-weight="400" fill="#dedede">00</text></g>
<g transform="translate(1113.392 630) rotate(-90)"><text transform="matrix(0.147 0 0 0.157 -0.441 5.297)" font-size="100" font-weight="400" fill="#dedede">28</text><text transform="matrix(0.1405 0 0 0.1324 15.967 4.604)" font-size="100" font-weight="400" fill="#dedede" stroke="#dedede" stroke-width="2" stroke-linejoin="round">日</text><text transform="matrix(0.154 0 0 0.161 28.227 5.45)" font-size="100" font-weight="400" fill="#dedede">14</text><text transform="matrix(0.179 0 0 0.148 46.77 5.45)" font-size="100" font-weight="400" fill="#dedede">:</text><text transform="matrix(0.159 0 0 0.157 50.781 5.297)" font-size="100" font-weight="400" fill="#dedede">00</text></g>
<rect x="139.4" y="652" width="10.2" height="10" fill="#00b0f0"/>
<text transform="matrix(0.1696 0 0 0.1667 153.554 662.317)" font-size="100" font-weight="400" letter-spacing="6" fill="#dedede">売数量</text>
<rect x="216" y="652" width="10" height="10" fill="#ff0000"/>
<text transform="matrix(0.1699 0 0 0.1667 229.85 662.317)" font-size="100" font-weight="400" letter-spacing="6" fill="#dedede">買数量</text>
</g>
</svg>
</body></html>
